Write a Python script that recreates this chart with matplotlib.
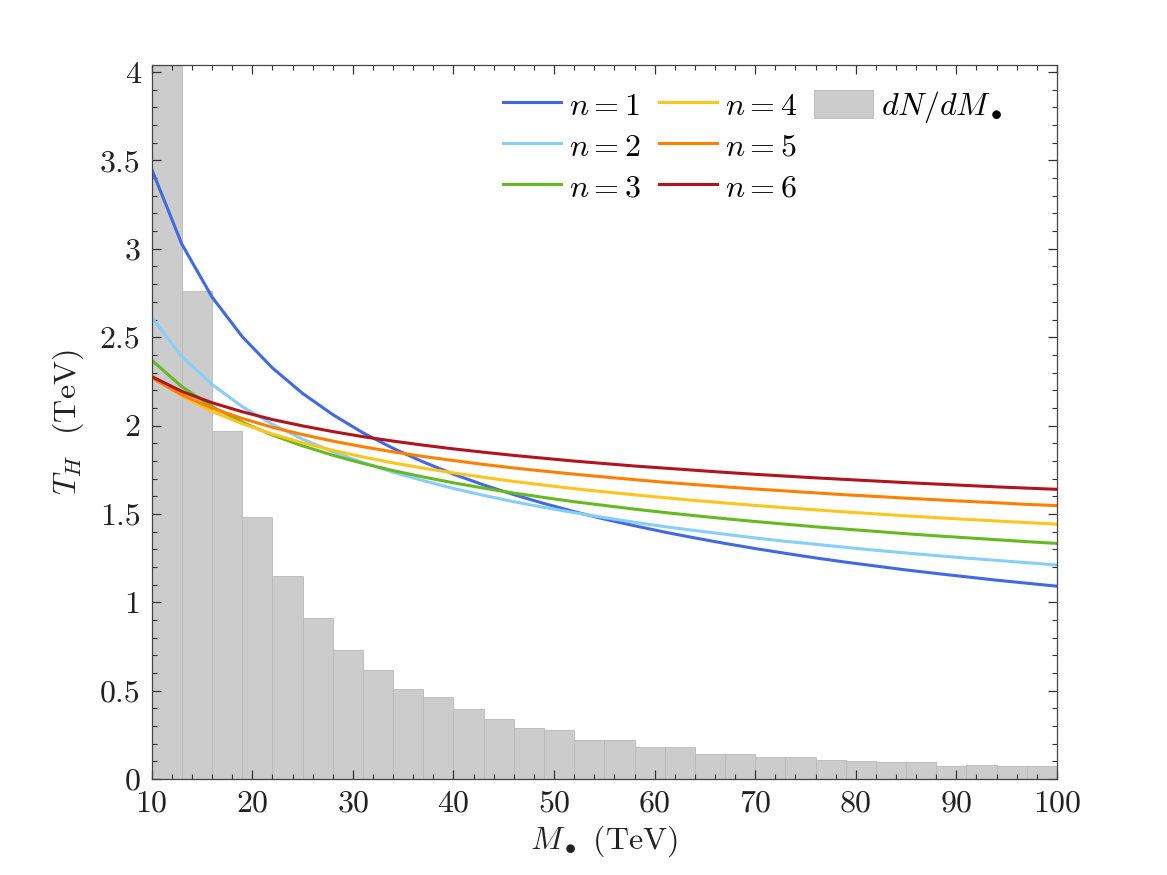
import matplotlib
matplotlib.use('Agg')

import matplotlib.pyplot as plt
from matplotlib.lines import Line2D
from matplotlib.ticker import MultipleLocator, FixedLocator, FixedFormatter

# Масса ЧД (TeV), точки кривых
masses = [10, 13, 16, 19, 22, 25, 28, 31, 34, 37, 40, 43, 46, 49, 52, 55,
          58, 61, 64, 67, 70, 73, 76, 79, 82, 85, 88, 91, 94, 97, 100]

T_n1 = [3.450, 3.026, 2.727, 2.503, 2.326, 2.182, 2.062, 1.959, 1.871, 1.794, 1.725,
        1.664, 1.609, 1.559, 1.513, 1.471, 1.433, 1.397, 1.364, 1.333, 1.304, 1.277,
        1.251, 1.227, 1.205, 1.183, 1.163, 1.144, 1.125, 1.108, 1.091]
T_n2 = [2.610, 2.391, 2.232, 2.107, 2.007, 1.923, 1.852, 1.790, 1.736, 1.688, 1.644,
        1.605, 1.569, 1.537, 1.507, 1.479, 1.453, 1.428, 1.406, 1.385, 1.364, 1.345,
        1.328, 1.311, 1.294, 1.279, 1.264, 1.250, 1.237, 1.224, 1.211]
T_n3 = [2.370, 2.220, 2.107, 2.019, 1.946, 1.885, 1.832, 1.786, 1.745, 1.709, 1.676,
        1.646, 1.618, 1.593, 1.569, 1.548, 1.527, 1.508, 1.490, 1.473, 1.457, 1.442,
        1.427, 1.414, 1.401, 1.388, 1.376, 1.365, 1.354, 1.343, 1.333]
T_n4 = [2.285, 2.168, 2.080, 2.010, 1.952, 1.902, 1.860, 1.822, 1.789, 1.759, 1.732,
        1.707, 1.684, 1.663, 1.643, 1.625, 1.608, 1.592, 1.576, 1.562, 1.548, 1.535,
        1.523, 1.511, 1.500, 1.489, 1.479, 1.469, 1.460, 1.451, 1.442]
T_n5 = [2.270, 2.173, 2.099, 2.040, 1.990, 1.949, 1.912, 1.880, 1.851, 1.825, 1.802,
        1.780, 1.760, 1.742, 1.725, 1.709, 1.694, 1.679, 1.666, 1.653, 1.641, 1.630,
        1.619, 1.608, 1.599, 1.589, 1.580, 1.571, 1.563, 1.554, 1.547]
T_n6 = [2.277, 2.193, 2.129, 2.078, 2.034, 1.998, 1.966, 1.937, 1.912, 1.889, 1.868,
        1.849, 1.831, 1.815, 1.799, 1.785, 1.771, 1.759, 1.747, 1.735, 1.724, 1.714,
        1.704, 1.695, 1.686, 1.677, 1.669, 1.661, 1.653, 1.646, 1.639]

# Гистограмма dN/dM (бины по 3 TeV)
bin_left = [10, 13, 16, 19, 22, 25, 28, 31, 34, 37, 40, 43, 46, 49, 52,
            55, 58, 61, 64, 67, 70, 73, 76, 79, 82, 85, 88, 91, 94, 97]
bin_height = [4.30, 2.76, 1.97, 1.48, 1.15, 0.91, 0.73, 0.615, 0.51, 0.465,
              0.395, 0.34, 0.29, 0.275, 0.223, 0.219, 0.181, 0.181, 0.141, 0.143,
              0.126, 0.124, 0.106, 0.100, 0.096, 0.094, 0.074, 0.079, 0.074, 0.074]

curves = [T_n1, T_n2, T_n3, T_n4, T_n5, T_n6]
curve_labels = ['$n = 1$', '$n = 2$', '$n = 3$', '$n = 4$', '$n = 5$', '$n = 6$']
colors = ['#4169e1', '#87cefa', '#66b921', '#ffc51c', '#ff8000', '#b0141e']

y_ticks = [0, 0.5, 1, 1.5, 2, 2.5, 3, 3.5, 4]
y_tick_labels = ['0', '0.5', '1', '1.5', '2', '2.5', '3', '3.5', '4']
x_ticks = [10, 20, 30, 40, 50, 60, 70, 80, 90, 100]

plt.rcParams['font.family'] = 'serif'
plt.rcParams['font.serif'] = ['cmr10']
plt.rcParams['mathtext.fontset'] = 'cm'
plt.rcParams['axes.formatter.use_mathtext'] = True

fig = plt.figure(figsize=(11.67, 8.75), dpi=100)
ax = fig.add_axes([0.130, 0.1097, 0.7757, 0.816])

bars = ax.bar(bin_left, bin_height, width=3, align='edge', color='#cccccc',
              edgecolor='#b9b9b9', linewidth=0.6, zorder=1, label='$dN/dM_\\bullet$')

handles = []
for vals, lab, col in zip(curves, curve_labels, colors):
    ln, = ax.plot(masses, vals, color=col, linewidth=2.2, label=lab, zorder=2)
    handles.append(ln)

ax.set_xlim(10, 100)
ax.set_ylim(0, 4.04)

ax.xaxis.set_major_locator(FixedLocator(x_ticks))
ax.xaxis.set_minor_locator(MultipleLocator(2))
ax.yaxis.set_major_locator(FixedLocator(y_ticks))
ax.yaxis.set_major_formatter(FixedFormatter(y_tick_labels))
ax.yaxis.set_minor_locator(MultipleLocator(0.1))

ax.tick_params(which='both', direction='in', top=True, right=True,
               colors='#333333', labelcolor='#222222', labelsize=23)
ax.tick_params(which='major', length=6.5, width=0.9, pad=8)
ax.tick_params(which='minor', length=3.6, width=0.8)
for sp in ax.spines.values():
    sp.set_color('#444444')
    sp.set_linewidth(0.9)

ax.set_xlabel('$M_\\bullet$ (TeV)', fontsize=23, color='#222222', labelpad=4)
ax.set_ylabel('$T_H$  (TeV)', fontsize=23, color='#222222', labelpad=10)

blank = Line2D([], [], alpha=0)
leg_handles = handles + [bars, blank, blank]
leg_labels = curve_labels + ['$dN/dM_\\bullet$', '', '']
ax.legend(leg_handles, leg_labels, ncol=3, loc='upper left',
          bbox_to_anchor=(503 / 1167, 1 - 89 / 875), bbox_transform=fig.transFigure,
          frameon=False, fontsize=23, handlelength=1.82, handleheight=1.0,
          handletextpad=0.25, columnspacing=0.55, labelspacing=0.3,
          borderpad=0, borderaxespad=0)

fig.savefig('out.png', dpi=100)
plt.close(fig)
